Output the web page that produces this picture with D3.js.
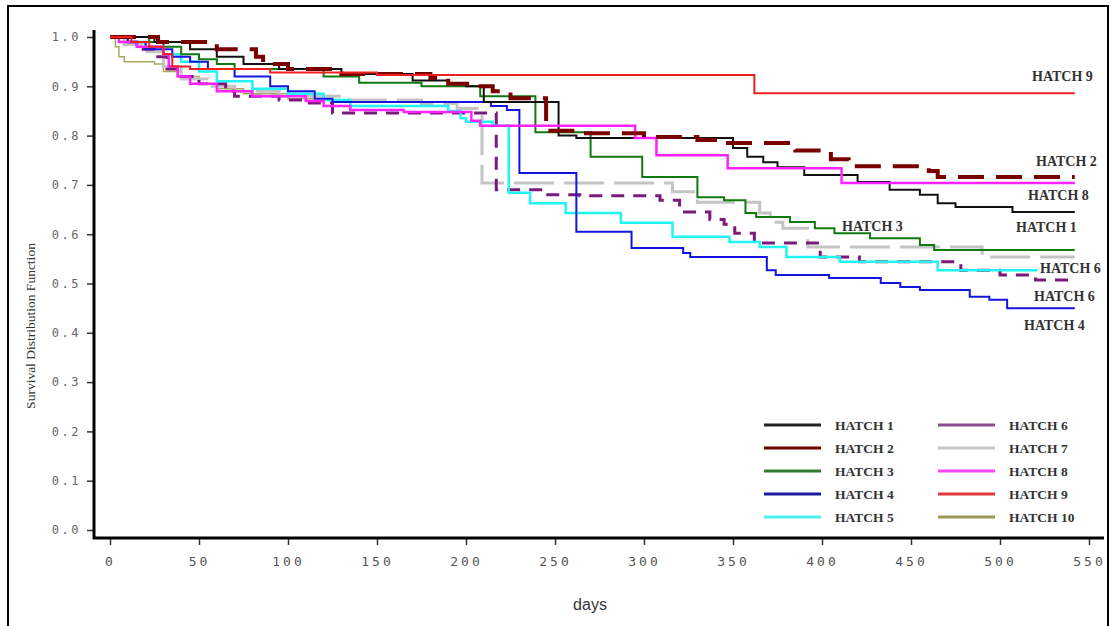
<!DOCTYPE html>
<html>
<head>
<meta charset="utf-8">
<script src="https://cdn.jsdelivr.net/npm/d3@7"></script>
<style>
  html, body { margin: 0; padding: 0; background: #fff; }
  svg { display: block; }
</style>
</head>
<body>
<svg id="chart" width="1111" height="626"></svg>
<script>
// Kaplan-Meier survival estimates per hatch: [day, survival] step points
const hatch1 = [[0,1],[25,0.99],[45,0.975],[60,0.96],[75,0.945],[95,0.935],[130,0.925],[170,0.912],[190,0.905],[200,0.9],[210,0.868],[252,0.8],[262,0.795],[350,0.775],[358,0.757],[367,0.746],[375,0.736],[390,0.72],[420,0.706],[438,0.69],[455,0.68],[465,0.663],[475,0.655],[507,0.645],[542,0.645]];
const hatch2 = [[0,1],[27,0.99],[60,0.975],[82,0.96],[86,0.945],[100,0.935],[130,0.925],[180,0.917],[190,0.905],[205,0.9],[215,0.89],[225,0.876],[245,0.81],[265,0.805],[300,0.797],[330,0.791],[345,0.785],[385,0.77],[405,0.752],[415,0.738],[460,0.728],[465,0.716],[542,0.716]];
const hatch3 = [[0,1],[22,0.99],[30,0.98],[40,0.965],[50,0.955],[60,0.945],[70,0.935],[120,0.92],[140,0.907],[175,0.9],[208,0.88],[239,0.807],[270,0.757],[299,0.716],[330,0.675],[345,0.669],[357,0.643],[363,0.635],[382,0.625],[396,0.612],[407,0.602],[427,0.592],[455,0.578],[463,0.568],[542,0.568]];
const hatch4 = [[0,1],[10,0.99],[20,0.975],[35,0.96],[45,0.95],[55,0.935],[70,0.92],[90,0.9],[100,0.89],[115,0.875],[125,0.868],[214,0.86],[223,0.852],[230,0.724],[262,0.605],[293,0.572],[322,0.562],[326,0.554],[369,0.527],[374,0.517],[404,0.511],[433,0.501],[444,0.493],[455,0.487],[483,0.473],[494,0.467],[504,0.45],[542,0.45]];
const hatch5 = [[0,1],[10,0.99],[20,0.98],[30,0.965],[40,0.95],[50,0.93],[60,0.91],[80,0.895],[100,0.885],[120,0.872],[135,0.86],[190,0.85],[197,0.835],[200,0.828],[215,0.82],[224,0.684],[236,0.663],[256,0.643],[287,0.623],[316,0.595],[348,0.584],[365,0.574],[380,0.554],[410,0.544],[465,0.527],[521,0.527]];
const hatch6 = [[0,1],[8,0.99],[15,0.975],[25,0.96],[32,0.935],[40,0.92],[50,0.905],[65,0.89],[70,0.88],[95,0.872],[110,0.866],[125,0.846],[217,0.69],[244,0.68],[264,0.678],[309,0.669],[320,0.645],[337,0.63],[345,0.62],[351,0.602],[362,0.582],[399,0.554],[421,0.544],[478,0.527],[500,0.517],[520,0.507],[540,0.507]];
const hatch7 = [[0,1],[8,0.985],[18,0.97],[30,0.94],[40,0.915],[55,0.9],[70,0.89],[95,0.88],[130,0.872],[175,0.865],[195,0.855],[209,0.704],[316,0.686],[330,0.665],[365,0.643],[371,0.624],[378,0.612],[392,0.574],[490,0.554],[542,0.554]];
const hatch8 = [[0,1],[5,0.99],[15,0.98],[30,0.965],[33,0.94],[38,0.92],[45,0.905],[60,0.89],[80,0.88],[110,0.87],[120,0.86],[135,0.852],[165,0.848],[203,0.83],[208,0.82],[295,0.795],[307,0.76],[347,0.734],[411,0.704],[542,0.704]];
const hatch9 = [[0,1],[12,0.99],[22,0.98],[30,0.965],[35,0.94],[45,0.935],[90,0.928],[150,0.923],[362,0.886],[542,0.886]];
const hatch10 = [[0,1],[3,0.98],[5,0.96],[8,0.95],[25,0.945],[30,0.93],[40,0.92],[50,0.905],[60,0.895],[75,0.885],[100,0.875],[120,0.875]];

const seriesNames = ["HATCH 1","HATCH 2","HATCH 3","HATCH 4","HATCH 5","HATCH 6","HATCH 7","HATCH 8","HATCH 9","HATCH 10"];
const xTicks = [0,50,100,150,200,250,300,350,400,450,500,550];
const yTicks = [0,0.1,0.2,0.3,0.4,0.5,0.6,0.7,0.8,0.9,1.0];

// end-of-curve labels (text and the survival level they sit near)
const endLabels = ["HATCH 9","HATCH 2","HATCH 8","HATCH 1","HATCH 3","HATCH 6","HATCH 6","HATCH 4"];

const styles = [
  {color:"#111111", width:2,   dash:null,    legend:"#222222"},
  {color:"#7a0000", width:4,   dash:"26,12", legend:"#6b0000"},
  {color:"#107a10", width:2,   dash:null,    legend:"#2e7d2e"},
  {color:"#1414e0", width:2,   dash:null,    legend:"#1a1aa0"},
  {color:"#22f4f4", width:2.5, dash:null,    legend:"#4ff0f0"},
  {color:"#7a1a7a", width:3,   dash:"13,9",  legend:"#8a4c8a"},
  {color:"#c4c4c4", width:3,   dash:"40,10", legend:"#c8c8c8"},
  {color:"#ff22ff", width:2.5, dash:null,    legend:"#ff44ff"},
  {color:"#f02020", width:2,   dash:null,    legend:"#e03a3a"},
  {color:"#a8a860", width:1.5, dash:null,    legend:"#99995a"}
];

const data = [hatch1,hatch2,hatch3,hatch4,hatch5,hatch6,hatch7,hatch8,hatch9,hatch10];

const svg = d3.select("#chart");

// outer frame
svg.append("path").attr("d","M8,626 V6 H1108 V626")
  .attr("fill","none").attr("stroke","#000").attr("stroke-width",2);

const x = d3.scaleLinear().domain([0,550]).range([110,1089]);
const y = d3.scaleLinear().domain([0,1]).range([530,37]);

const tickFont = "'DejaVu Sans Mono', monospace";

// y axis
const yAxis = svg.append("g").attr("transform","translate(94,0)")
  .call(d3.axisLeft(y).tickValues(yTicks).tickSize(7).tickPadding(6).tickFormat(d3.format(".1f")));
yAxis.select(".domain").remove();
yAxis.selectAll("line").attr("stroke","#333").attr("stroke-width",1.5);
yAxis.selectAll("text").attr("font-family",tickFont).attr("font-size",12)
  .attr("fill","#666").attr("letter-spacing","2.5px");
svg.append("line").attr("x1",94).attr("x2",94).attr("y1",30).attr("y2",539)
  .attr("stroke","#000").attr("stroke-width",3);

// x axis
const xAxis = svg.append("g").attr("transform","translate(0,538)")
  .call(d3.axisBottom(x).tickValues(xTicks).tickSize(7).tickPadding(12).tickFormat(d3.format("d")));
xAxis.select(".domain").remove();
xAxis.selectAll("line").attr("stroke","#333").attr("stroke-width",1.5);
xAxis.selectAll("text").attr("font-family",tickFont).attr("font-size",13)
  .attr("fill","#555").attr("letter-spacing","3px");
svg.append("line").attr("x1",93).attr("x2",1104).attr("y1",538).attr("y2",538)
  .attr("stroke","#000").attr("stroke-width",3);

// axis titles
svg.append("text").attr("x",590).attr("y",610).attr("text-anchor","middle")
  .attr("font-family","'Liberation Sans', Arial, sans-serif").attr("font-size",16)
  .attr("fill","#333").text("days");
svg.append("text").attr("transform","translate(35,326) rotate(-90)").attr("text-anchor","middle")
  .attr("font-family","'Liberation Serif', 'Times New Roman', serif").attr("font-size",13.5)
  .attr("fill","#333").text("Survival Distribution Function");

// survival curves (draw order keeps dashed and light lines visible)
const line = d3.line().x(d => x(d[0])).y(d => y(d[1])).curve(d3.curveStepAfter);
const order = [9,6,5,4,3,2,0,7,1,8];
svg.append("g").selectAll("path").data(order).join("path")
  .attr("d", i => line(data[i]))
  .attr("fill","none")
  .attr("stroke", i => styles[i].color)
  .attr("stroke-width", i => styles[i].width)
  .attr("stroke-dasharray", i => styles[i].dash)
  .attr("stroke-linejoin","miter");

// labels at the curve ends
const labelFont = "'Liberation Serif', 'Times New Roman', serif";
const labelPos = [
  {x:1032, y:81}, {x:1036, y:166}, {x:1028, y:200}, {x:1016, y:232},
  {x:842, y:231}, {x:1040, y:273}, {x:1034, y:301}, {x:1024, y:330}
];
svg.append("g").selectAll("text").data(endLabels).join("text")
  .attr("x",(d,i) => labelPos[i].x).attr("y",(d,i) => labelPos[i].y)
  .attr("font-family",labelFont).attr("font-size",14).attr("font-weight","bold")
  .attr("fill","#333").text(d => d);

// legend
const legend = svg.append("g");
const legendRows = [425,448,471,494,517];
seriesNames.forEach((name,i) => {
  const col = Math.floor(i/5), row = i % 5;
  const lx = col === 0 ? 764 : 938;
  const ly = legendRows[row];
  legend.append("line").attr("x1",lx).attr("x2",lx+57).attr("y1",ly).attr("y2",ly)
    .attr("stroke",styles[i].legend).attr("stroke-width",3);
  legend.append("text").attr("x",lx+71).attr("y",ly+5)
    .attr("font-family",labelFont).attr("font-size",13.5).attr("font-weight","bold")
    .attr("fill","#333").text(name);
});
</script>
</body>
</html>
